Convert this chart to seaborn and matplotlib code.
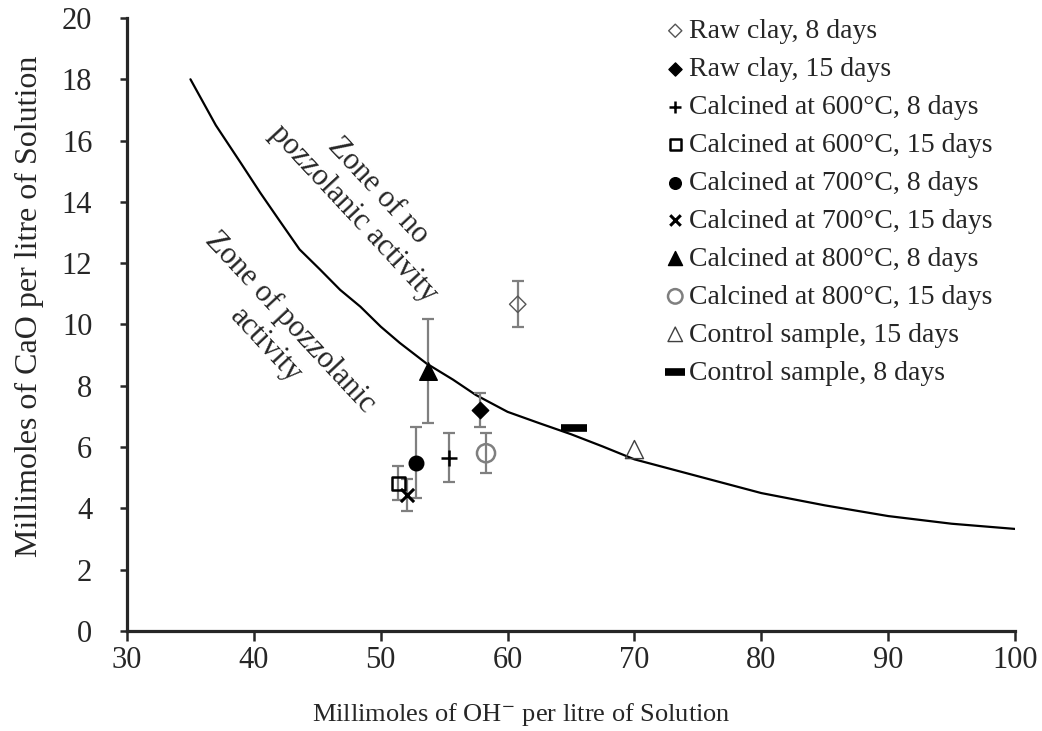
import matplotlib
matplotlib.use("Agg")
from matplotlib import pyplot as plt
import seaborn as sns

# data
labels = ["Raw clay, 8 days", "Raw clay, 15 days",
          "Calcined at 600°C, 8 days", "Calcined at 600°C, 15 days",
          "Calcined at 700°C, 8 days", "Calcined at 700°C, 15 days",
          "Calcined at 800°C, 8 days", "Calcined at 800°C, 15 days",
          "Control sample, 15 days", "Control sample, 8 days"]
oh = [60.8, 57.8, 55.4, 51.4, 52.75, 52.1, 53.7, 58.3, 70.0, 65.2]
cao = [10.66, 7.21, 5.66, 4.82, 5.49, 4.44, 8.48, 5.80, 5.92, 6.61]
err = [0.75, 0.57, 0.79, 0.55, 1.16, 0.52, 1.7, 0.65, None, None]

# Frattini-type limit curve
curve_x = [35, 37, 39, 40.5, 42, 43.6, 45.2, 46.8, 48.4, 50, 51.5, 53.6,
           55.7, 57.5, 60, 62.5, 65, 67.5, 70, 75, 80, 85, 90, 95, 100]
curve_y = [18.0, 16.5, 15.25, 14.3, 13.4, 12.45, 11.8, 11.13, 10.58, 9.93,
           9.4, 8.73, 8.2, 7.7, 7.15, 6.78, 6.42, 6.02, 5.6, 5.05, 4.5, 4.1,
           3.75, 3.5, 3.33]

# marker styles: marker, size, face, edge, linewidth
styles = [
    ("D", 70, "none", "#555555", 1.0),
    ("D", 70, "black", "black", 1.0),
    ("+", 130, "black", "black", 1.8),
    ("s", 90, "none", "black", 1.8),
    ("o", 110, "black", "black", 1.0),
    ("x", 90, "black", "black", 2.2),
    ("^", 160, "black", "black", 1.0),
    ("o", 170, "none", "#7f7f7f", 1.8),
    ("^", 170, "none", "#404040", 1.0),
    ("_", 330, "black", "black", 5.5),
]

sns.set_style("ticks")
plt.rcParams["font.family"] = ["Liberation Serif", "DejaVu Serif"]
plt.rcParams["mathtext.fontset"] = "stix"

fig = plt.figure(figsize=(10.42, 7.31), dpi=100)
ax = fig.add_axes([0.1219, 0.1368, 0.8522, 0.8386])

sns.lineplot(x=curve_x, y=curve_y, color="black", linewidth=1.6, ax=ax,
             sort=False, zorder=2)

for i in range(len(labels)):
    if err[i] is not None:
        ax.errorbar(oh[i], cao[i], yerr=err[i], fmt="none", ecolor="#7f7f7f",
                    elinewidth=1.6, capsize=4.5, capthick=1.6, zorder=3)

for i, lab in enumerate(labels):
    m, s, fc, ec, lw = styles[i]
    sns.scatterplot(x=[oh[i]], y=[cao[i]], marker=m, s=s, ax=ax, label=lab,
                    color=ec if fc == "none" else fc, facecolors=fc,
                    edgecolors=ec, linewidths=lw, zorder=4)

ax.set_xlim(30, 100)
ax.set_ylim(0, 20)
ax.set_xticks(range(30, 101, 10))
ax.set_yticks(range(0, 21, 2))
sns.despine(ax=ax)
for sp in ["left", "bottom"]:
    ax.spines[sp].set_linewidth(2.3)
ax.tick_params(axis="y", length=5, width=1.8, labelsize=22, pad=20)
ax.tick_params(axis="x", length=7, width=1.8, labelsize=22, pad=4)

ax.set_xlabel("Millimoles of OH$^{-}$ per litre of Solution", fontsize=19)
ax.xaxis.set_label_coords(0.444, -0.115)
ax.set_ylabel("Millimoles of CaO per litre of Solution", fontsize=23)
ax.yaxis.set_label_coords(-0.094, 0.53)

ax.text(48.8, 14.0, "Zone of no\npozzolanic activity", fontsize=22,
        rotation=-47, ha="center", va="center", rotation_mode="anchor")
ax.text(41.9, 9.7, "Zone of pozzolanic\nactivity", fontsize=22,
        rotation=-47, ha="center", va="center", rotation_mode="anchor")

ax.legend(loc="upper left", bbox_to_anchor=(0.608, 0.999), frameon=False,
          fontsize=20, handlelength=0.6, handletextpad=0.2, labelspacing=0.45,
          borderaxespad=0, borderpad=0, markerscale=0.8)

fig.savefig("out.png", dpi=100)
